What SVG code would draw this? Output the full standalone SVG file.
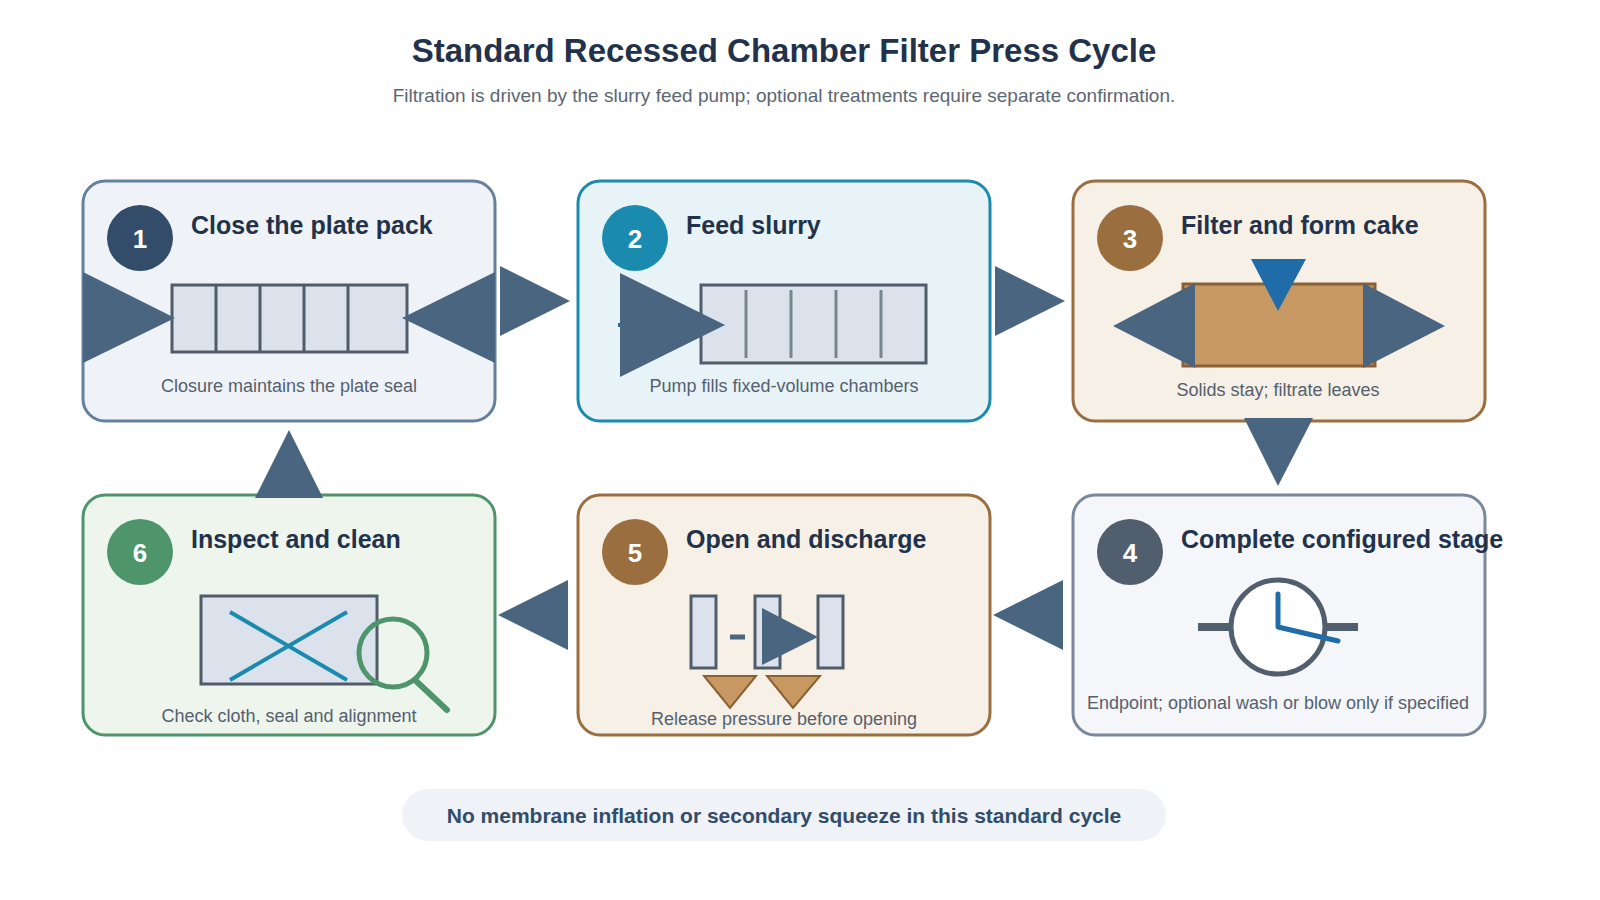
<svg xmlns="http://www.w3.org/2000/svg" width="1600" height="900" viewBox="0 0 1600 900">
<style>
text{font-family:"Liberation Sans",Arial,sans-serif}
.t{font-size:25px;font-weight:bold;fill:#22324a}
.c{font-size:18px;fill:#55606e;text-anchor:middle}
.n{font-size:26px;font-weight:bold;fill:#fff;text-anchor:middle}
.a{fill:#4a6580}
.plate{fill:#dbe2ec;stroke:#515c6a;stroke-width:3}
</style>
<rect width="1600" height="900" fill="#fff"/>
<text x="784" y="62" font-size="33" font-weight="bold" fill="#22324a" text-anchor="middle">Standard Recessed Chamber Filter Press Cycle</text>
<text x="784" y="102" font-size="19" fill="#5c6673" text-anchor="middle">Filtration is driven by the slurry feed pump; optional treatments require separate confirmation.</text>

<g id="n1">
<rect x="83" y="181" width="412" height="240" rx="22" fill="#eff3f8" stroke="#64809f" stroke-width="3"/>
<circle cx="140" cy="238" r="33" fill="#324c69"/><text class="n" x="140" y="248">1</text>
<text class="t" x="191" y="234">Close the plate pack</text>
<rect class="plate" x="172" y="285" width="235" height="67"/>
<path d="M216 285V352M260 285V352M304 285V352M348 285V352" stroke="#515c6a" stroke-width="3"/>
<polygon class="a" points="83,272 175,318 83,363"/>
<polygon class="a" points="495,272 402,318 495,363"/>
<text class="c" x="289" y="392">Closure maintains the plate seal</text>
</g>

<g id="n2">
<rect x="578" y="181" width="412" height="240" rx="22" fill="#e8f3f8" stroke="#1a8aae" stroke-width="3"/>
<circle cx="635" cy="238" r="33" fill="#1a8aae"/><text class="n" x="635" y="248">2</text>
<text class="t" x="686" y="234">Feed slurry</text>
<rect class="plate" x="701" y="285" width="225" height="78"/>
<path d="M746 290V358M791 290V358M836 290V358M881 290V358" stroke="#7a8592" stroke-width="3"/>
<line x1="618" y1="325" x2="700" y2="325" stroke="#1f6ca8" stroke-width="4"/>
<polygon class="a" points="620,273 725,325 620,377"/>
<text class="c" x="784" y="392">Pump fills fixed-volume chambers</text>
</g>

<g id="n3">
<rect x="1073" y="181" width="412" height="240" rx="22" fill="#f7f0e6" stroke="#9a6e3e" stroke-width="3"/>
<circle cx="1130" cy="238" r="33" fill="#9a6e3e"/><text class="n" x="1130" y="248">3</text>
<text class="t" x="1181" y="234">Filter and form cake</text>
<rect x="1183" y="284" width="192" height="82" fill="#c89862" stroke="#8a5f33" stroke-width="3"/>
<polygon fill="#1f6ca8" points="1251,259 1306,259 1278,311"/>
<polygon class="a" points="1113,326 1195,283 1195,368"/>
<polygon class="a" points="1445,326 1363,283 1363,368"/>
<text class="c" x="1278" y="396">Solids stay; filtrate leaves</text>
</g>

<g id="n4">
<rect x="1073" y="495" width="412" height="240" rx="22" fill="#f4f6fa" stroke="#7a8899" stroke-width="3"/>
<circle cx="1130" cy="552" r="33" fill="#515e6d"/><text class="n" x="1130" y="562">4</text>
<text class="t" x="1181" y="548">Complete configured stage</text>
<path d="M1198 627H1230M1326 627H1358" stroke="#515e6d" stroke-width="8"/>
<circle cx="1278" cy="627" r="47" fill="#fff" stroke="#515e6d" stroke-width="5"/>
<path d="M1278 594V627L1338 641" fill="none" stroke="#1f6ca8" stroke-width="5" stroke-linecap="round" stroke-linejoin="round"/>
<text class="c" x="1278" y="709">Endpoint; optional wash or blow only if specified</text>
</g>

<g id="n5">
<rect x="578" y="495" width="412" height="240" rx="22" fill="#f7f0e6" stroke="#9a6e3e" stroke-width="3"/>
<circle cx="635" cy="552" r="33" fill="#9a6e3e"/><text class="n" x="635" y="562">5</text>
<text class="t" x="686" y="548">Open and discharge</text>
<rect class="plate" x="691" y="596" width="25" height="72"/>
<rect class="plate" x="755" y="596" width="25" height="72"/>
<rect class="plate" x="818" y="596" width="25" height="72"/>
<line x1="730" y1="637" x2="745" y2="637" stroke="#4a6580" stroke-width="5"/>
<polygon class="a" points="762,608 818,637 762,665"/>
<polygon fill="#c89862" stroke="#8a5f33" stroke-width="2" points="704,676 756,676 730,708"/>
<polygon fill="#c89862" stroke="#8a5f33" stroke-width="2" points="767,676 820,676 793,708"/>
<text class="c" x="784" y="725">Release pressure before opening</text>
</g>

<g id="n6">
<rect x="83" y="495" width="412" height="240" rx="22" fill="#edf5ec" stroke="#4e956c" stroke-width="3"/>
<circle cx="140" cy="552" r="33" fill="#4e956c"/><text class="n" x="140" y="562">6</text>
<text class="t" x="191" y="548">Inspect and clean</text>
<rect class="plate" x="201" y="596" width="176" height="88"/>
<path d="M230 612L347 680M230 680L347 612" stroke="#1a8aae" stroke-width="4"/>
<circle cx="393" cy="653" r="34" fill="none" stroke="#4e956c" stroke-width="5"/>
<line x1="415" y1="680" x2="447" y2="710" stroke="#4e956c" stroke-width="6" stroke-linecap="round"/>
<text class="c" x="289" y="722">Check cloth, seal and alignment</text>
</g>

<g id="connectors">
<polygon class="a" points="500,266 570,301 500,336"/>
<polygon class="a" points="995,266 1065,301 995,336"/>
<polygon class="a" points="1244,418 1313,418 1278,486"/>
<polygon class="a" points="1063,580 993,615 1063,650"/>
<polygon class="a" points="568,580 498,615 568,650"/>
<polygon class="a" points="255,498 323,498 289,430"/>
</g>

<g id="note">
<rect x="402" y="789" width="764" height="52" rx="26" fill="#eff2f7"/>
<text x="784" y="823" font-size="21" font-weight="bold" fill="#324c69" text-anchor="middle">No membrane inflation or secondary squeeze in this standard cycle</text>
</g>
</svg>
